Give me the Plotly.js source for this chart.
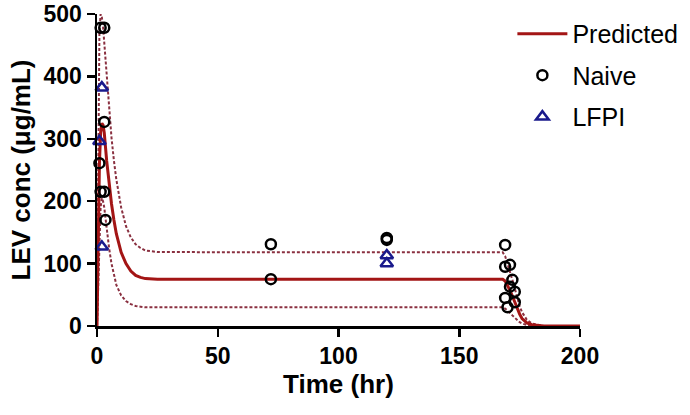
<!DOCTYPE html>
<html><head><meta charset="utf-8">
<script src="https://cdn.plot.ly/plotly-3.0.1.min.js"></script>
<style>html,body{margin:0;padding:0;background:#fff}</style>
</head><body>
<div id="chart" style="width:690px;height:415px"></div>
<script>
// Model curve
const predTime = [0,0.5,1,1.5,2,2.5,3,4,5,6,7,8,10,12,14,16,18,20,25,50,100,150,168,169,170,171,172,173,174,175,176,178,180,185,200];
const predicted = [0,150,260,310,325,322,310,265,228,196,170,148,118,100,88,81,78,76,75,75,75,75,75,72,65,57,48,38,28,19,12,5,2,0,0];
const upperBound = [0,300,470,500,495,480,455,395,345,302,265,235,190,160,142,131,125,121,118.5,118,118,118,118,112,100,88,74,60,45,32,22,10,4,0,0];
const lowerBound = [0,80,150,190,205,200,190,155,125,100,80,66,49,40,35,32,31,30,30,30,30,30,30,28,25,21,17,13,9,6,4,1.5,0.5,0,0];

// Observations
const naiveTime = [1.5,3,3,1,1.5,3,3.5,72,72,120,120,169,169,171,172,173,169,170,173,171];
const naiveConc = [478,478,327,261,215,215,170,131,75,141,138,130,95,98,74,55,45,30,38,63];
const lfpiTime = [2,1,2,120,120];
const lfpiConc = [382,296,127,113,100];

const predColor = '#a31515';
const bandColor = '#8a3040';
const fam = 'Liberation Sans, Arial, sans-serif';

const traces = [
  {x: predTime, y: upperBound, mode: 'lines', line: {color: bandColor, width: 2, dash: '3px,2px'}, showlegend: false, hoverinfo: 'skip'},
  {x: predTime, y: lowerBound, mode: 'lines', line: {color: bandColor, width: 2, dash: '3px,2px'}, showlegend: false, hoverinfo: 'skip'},
  {x: predTime, y: predicted, mode: 'lines', name: 'Predicted', legendgroup: 'a', line: {color: predColor, width: 3}},
  {x: naiveTime, y: naiveConc, mode: 'markers', name: 'Naive', legendgroup: 'b', cliponaxis: false,
   marker: {symbol: 'circle-open', size: 10, color: '#000', line: {width: 2.5, color: '#000'}}},
  {x: lfpiTime, y: lfpiConc, mode: 'markers', name: 'LFPI', legendgroup: 'c', cliponaxis: false,
   marker: {symbol: 'triangle-up-open', size: 11, color: '#1a1a8c', line: {width: 2.5, color: '#1a1a8c'}}}
];

const axisFont = {family: fam, size: 23, color: '#000', weight: 'bold'};
const titleFont = {family: fam, size: 26, color: '#000', weight: 'bold'};
const layout = {
  width: 690, height: 415,
  margin: {l: 97, r: 110, t: 14, b: 89, autoexpand: false},
  paper_bgcolor: '#fff', plot_bgcolor: '#fff',
  showlegend: true,
  legend: {x: 0.86, y: 1.01, xanchor: 'left', yanchor: 'top', bgcolor: 'rgba(0,0,0,0)',
    font: {family: fam, size: 25, color: '#000'},
    tracegroupgap: 6, itemwidth: 50},
  xaxis: {range: [0, 200], tickvals: [0,50,100,150,200], showgrid: false, zeroline: false,
    showline: true, linecolor: '#000', linewidth: 2.5, ticks: 'outside', ticklen: 8, tickwidth: 2.5, tickcolor: '#000',
    tickfont: axisFont,
    title: {text: 'Time (hr)', font: titleFont, standoff: 7}},
  yaxis: {range: [0, 500], tickvals: [0,100,200,300,400,500], showgrid: false, zeroline: false,
    showline: true, linecolor: '#000', linewidth: 2.5, ticks: 'outside', ticklen: 8, tickwidth: 2.5, tickcolor: '#000',
    tickfont: axisFont,
    title: {text: 'LEV conc (μg/mL)', font: titleFont, standoff: 6}}
};
Plotly.newPlot('chart', traces, layout, {displayModeBar: false, staticPlot: true});
</script>
</body></html>
